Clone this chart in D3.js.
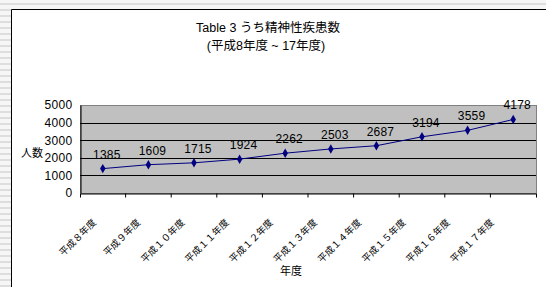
<!DOCTYPE html>
<html><head><meta charset="utf-8">
<script src="https://cdn.jsdelivr.net/npm/d3@7"></script>
<style>
html,body{margin:0;padding:0;background:#fff;}
svg{display:block;}
</style></head>
<body>
<script>
const categories = ["平成８年度","平成９年度","平成１０年度","平成１１年度","平成１２年度","平成１３年度","平成１４年度","平成１５年度","平成１６年度","平成１７年度"];
const values = [1385,1609,1715,1924,2262,2503,2687,3194,3559,4178];
const yTicks = [0,1000,2000,3000,4000,5000];
const titleLines = ["Table 3 うち精神性疾患数","(平成8年度 ~ 17年度)"];
const yTitle = "人数";
const xTitle = "年度";

const W = 546, H = 287;
const svg = d3.select("body").append("svg").attr("width", W).attr("height", H);
const latin = "'Liberation Sans',Arial,sans-serif";
const cjk = "'Noto Sans CJK JP','Noto Sans CJK SC',sans-serif";

// striped background outside frame
const defs = svg.append("defs");
const pat = defs.append("pattern").attr("id","stripe").attr("patternUnits","userSpaceOnUse").attr("width",6).attr("height",6);
pat.append("rect").attr("width",6).attr("height",6).attr("fill","#f6f6f6");
pat.append("rect").attr("y",3).attr("width",6).attr("height",2).attr("fill","#dedede");
svg.append("rect").attr("width",W).attr("height",H).attr("fill","url(#stripe)");
svg.append("rect").attr("x",11).attr("y",9).attr("width",W).attr("height",H).attr("fill","#fff");
svg.append("path").attr("d",`M11.5,${H} V9.5 H${W}`).attr("fill","none").attr("stroke","#000").attr("stroke-width",1);

const m = {left:80, right:536, top:105, bottom:193};
const x = d3.scaleBand().domain(categories).range([m.left, m.right]).padding(0);
const y = d3.scaleLinear().domain([0,5000]).range([m.bottom, m.top]);

// plot area
svg.append("rect").attr("x",m.left+0.5).attr("y",m.top+0.5).attr("width",m.right-m.left).attr("height",m.bottom-m.top)
  .attr("fill","#c0c0c0").attr("stroke","#808080").attr("stroke-width",1);

// gridlines
svg.append("g").selectAll("line").data(yTicks.filter(d=>d>0 && d<5000)).join("line")
  .attr("x1",m.left).attr("x2",m.right).attr("y1",d=>Math.round(y(d))+0.5).attr("y2",d=>Math.round(y(d))+0.5)
  .attr("stroke","#000").attr("stroke-width",1);

// y axis
const yAxis = d3.axisLeft(y).tickValues(yTicks).tickSize(0).tickPadding(8).tickFormat(d3.format("d"));
const gy = svg.append("g").attr("transform",`translate(${m.left+0.5},0)`).call(yAxis);
gy.select(".domain").attr("stroke","#000");
gy.selectAll("text").attr("font-family",latin).attr("font-size",12).attr("fill","#000").attr("letter-spacing","0.3px");

// x axis
const xAxis = d3.axisBottom(x).tickSize(4).tickFormat("");
const gx = svg.append("g").attr("transform",`translate(0,${m.bottom+0.5})`).call(xAxis);
gx.select(".domain").attr("stroke","#000");
gx.selectAll(".tick line").attr("stroke","#000").attr("transform",`translate(${x.bandwidth()/2},0)`);
gx.selectAll(".tick").filter((d,i)=>i===categories.length-1).select("line").remove();

// x labels rotated
svg.append("g").selectAll("text").data(categories).join("text")
  .attr("transform",(d,i)=>`translate(${x(d)+x.bandwidth()/2-6-i*1.4},${m.bottom+30}) rotate(-45)`)
  .attr("text-anchor","end").attr("font-family",cjk).attr("font-size",9.5).attr("fill","#000")
  .text(d=>d);

// line
const line = d3.line().x((d,i)=>x(categories[i])+x.bandwidth()/2).y(d=>y(d));
svg.append("path").datum(values).attr("d",line).attr("fill","none").attr("stroke","#000080").attr("stroke-width",1);
svg.append("g").selectAll("path").data(values).join("path")
  .attr("transform",(d,i)=>`translate(${x(categories[i])+x.bandwidth()/2},${y(d)})`)
  .attr("d",d3.symbol(d3.symbolDiamond, 26)).attr("fill","#000080");

// data labels
svg.append("g").selectAll("text").data(values).join("text")
  .attr("x",(d,i)=>x(categories[i])+x.bandwidth()/2+4).attr("y",d=>y(d)-10)
  .attr("text-anchor","middle").attr("font-family",latin).attr("font-size",12).attr("fill","#000")
  .attr("letter-spacing","0.2px")
  .text(d=>d);

// titles
svg.append("text").attr("x",268).attr("y",32).attr("text-anchor","middle").attr("font-family",latin+","+cjk).attr("font-size",12.5).text(titleLines[0]);
svg.append("text").attr("x",266).attr("y",50).attr("text-anchor","middle").attr("font-family",latin+","+cjk).attr("font-size",12.5).text(titleLines[1]);
svg.append("text").attr("x",32).attr("y",157).attr("text-anchor","middle").attr("font-family",cjk).attr("font-size",11).text(yTitle);
svg.append("text").attr("x",291).attr("y",275).attr("text-anchor","middle").attr("font-family",cjk).attr("font-size",11).text(xTitle);
</script>
</body></html>
